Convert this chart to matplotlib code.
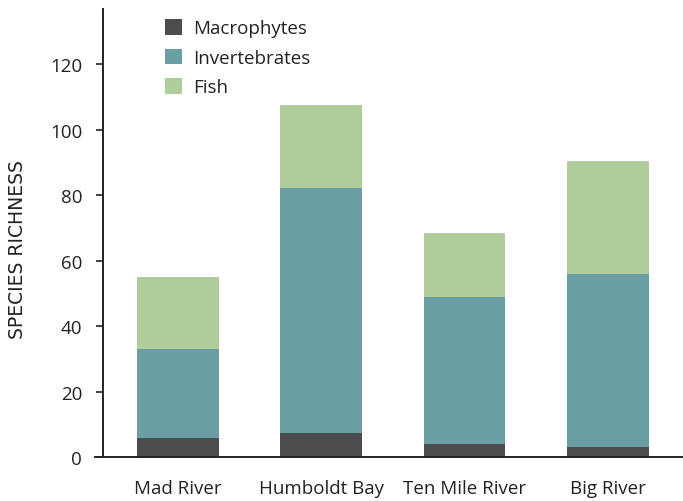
import numpy as np
import matplotlib.pyplot as plt

# data
sites = ['Mad River', 'Humboldt Bay', 'Ten Mile River', 'Big River']
macrophytes = [5.8, 7.3, 4.0, 3.0]
invertebrates = [27.2, 74.8, 45.0, 53.0]
fish = [22.0, 25.4, 19.4, 34.4]

plt.rcParams['font.family'] = ['Open Sans', 'DejaVu Sans']
plt.rcParams['font.weight'] = 500

fig = plt.figure(figsize=(6.83, 5.02), dpi=100)
ax = fig.add_axes([95 / 683, 1 - 458 / 502, 588 / 683, 448 / 502])

x = np.arange(len(sites))
w = 0.57
bottom2 = np.array(macrophytes)
bottom3 = bottom2 + np.array(invertebrates)
ax.bar(x, macrophytes, w, color='#4b4c4e', label='Macrophytes')
ax.bar(x, invertebrates, w, bottom=bottom2, color='#6b9ea2', label='Invertebrates')
ax.bar(x, fish, w, bottom=bottom3, color='#afcd9b', label='Fish')

ax.set_xlim(-0.579, 3.524)
ax.set_ylim(0, 136.8)
ax.set_yticks([0, 20, 40, 60, 80, 100, 120])

for s in ['top', 'right']:
    ax.spines[s].set_visible(False)
ax.spines['left'].set_position(('axes', 8 / 588))
ax.spines['left'].set_color('#222222')
ax.spines['bottom'].set_color('#222222')
ax.spines['left'].set_linewidth(1.4)
ax.spines['bottom'].set_linewidth(1.4)

ax.set_xticks(x)
ax.set_xticklabels(sites)
ax.tick_params(axis='x', length=0, pad=16, labelsize=13.5, labelcolor='#222222')
ax.tick_params(axis='y', length=5, width=1.2, color='#222222', pad=10,
               labelsize=13.5, labelcolor='#222222')

ax.set_ylabel('SPECIES RICHNESS', fontsize=13.5, color='#222222',
              family='DejaVu Sans')
ax.yaxis.set_label_coords(-0.115, 0.465)

leg = ax.legend(loc='upper left', bbox_to_anchor=(0.09, 1.015), frameon=False,
                fontsize=13.5, handlelength=0.9, handleheight=0.9,
                labelspacing=0.6, handletextpad=0.6)
for t in leg.get_texts():
    t.set_color('#222222')

fig.savefig('out.png', dpi=100)
